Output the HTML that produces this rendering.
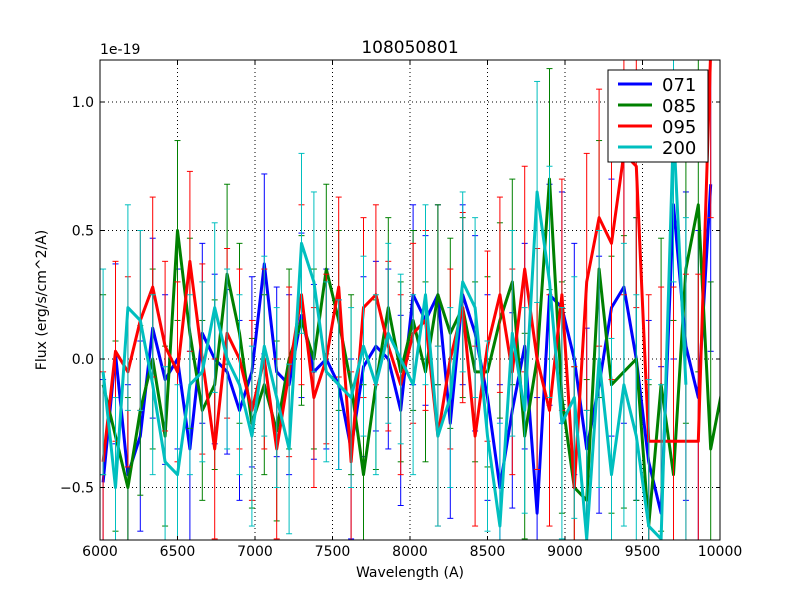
<!DOCTYPE html>
<html><head><meta charset="utf-8"><style>
html,body{margin:0;padding:0;background:#fff;width:800px;height:600px;overflow:hidden;}
svg{display:block;font-family:"DejaVu Sans","Liberation Sans",sans-serif;}
</style></head><body>
<svg id="chart" width="800" height="600">
<rect width="800" height="600" fill="#fff"/>
<defs><clipPath id="clip"><rect x="100" y="60" width="620" height="480"/></clipPath></defs>
<g id="grid"></g>
<g id="series" clip-path="url(#clip)"></g>
<rect x="100" y="60" width="620" height="480" fill="none" stroke="#000" stroke-width="1"/>
<g id="ticks"></g>
<text x="410" y="53" font-size="17" text-anchor="middle">108050801</text>
<text x="100" y="54" font-size="14">1e-19</text>
<text x="410" y="577" font-size="14" text-anchor="middle">Wavelength (A)</text>
<text x="46" y="300" font-size="14" text-anchor="middle" transform="rotate(-90 46 300)">Flux (erg/s/cm^2/A)</text>
<g id="legend">
<rect x="608" y="70" width="100" height="92" fill="#fff" stroke="#000"/>
</g>
</svg>
<script>
const xTicks=[6000,6500,7000,7500,8000,8500,9000,9500,10000];
const yTicks=[-0.5,0.0,0.5,1.0];
const names=["071","085","095","200"];
const colors=["#0000ff","#008000","#ff0000","#00bfbf"];
const start=6020, step=80;
const s071=[-0.48,0.02,-0.45,-0.3,0.12,-0.08,0.0,-0.35,0.1,0.0,-0.05,-0.2,-0.05,0.37,-0.05,-0.1,0.17,-0.05,0.0,-0.1,-0.35,-0.03,0.05,0.0,-0.2,0.25,0.15,0.25,-0.25,0.25,0.1,-0.15,-0.5,-0.2,0.05,-0.6,0.25,0.2,0.0,-0.35,-0.1,0.2,0.28,0.0,-0.4,-0.6,0.6,0.05,-0.15,0.68];
const s085=[-0.1,-0.3,-0.5,-0.2,0.0,-0.3,0.5,0.1,-0.2,-0.1,0.33,0.1,-0.25,-0.1,-0.28,0.0,0.15,0.0,0.35,0.15,-0.1,-0.45,-0.1,0.2,-0.05,0.15,-0.05,0.25,0.1,0.2,-0.05,-0.05,0.15,0.3,-0.3,0.0,0.7,-0.15,-0.5,-0.55,0.35,-0.1,-0.05,0.0,-0.65,-0.1,-0.45,0.35,0.6,-0.35,-0.1];
const s095=[-0.4,0.03,-0.05,0.15,0.28,0.05,-0.05,0.38,0.0,-0.35,0.1,0.0,-0.2,0.0,-0.35,-0.05,0.25,-0.15,0.0,0.28,-0.4,0.2,0.25,0.05,-0.1,0.1,0.15,-0.3,0.0,0.2,-0.3,0.05,0.25,-0.05,0.35,0.0,-0.2,0.25,-0.5,0.3,0.55,0.45,0.8,0.75,-0.32,-0.32,-0.32,-0.32,-0.32,1.2];
const s200=[-0.05,-0.5,0.2,0.15,-0.1,-0.4,-0.45,-0.1,-0.05,0.2,0.0,-0.1,-0.3,0.05,-0.15,-0.35,0.45,0.3,-0.05,-0.1,-0.15,0.05,-0.1,0.1,0.0,-0.1,0.25,-0.3,-0.15,0.3,0.2,-0.3,-0.65,0.1,-0.2,0.65,0.3,-0.25,-0.15,-0.7,0.0,-0.45,-0.1,-0.3,-0.65,-0.7,0.9,-0.1];
const e071=[0.4,0.35,0.35,0.37,0.35,0.33,0.35,0.38,0.35,0.33,0.32,0.35,0.37,0.35,0.33,0.35,0.32,0.34,0.35,0.33,0.35,0.35,0.33,0.35,0.37,0.35,0.33,0.35,0.37,0.35,0.38,0.4,0.4,0.38,0.4,0.45,0.43,0.45,0.45,0.47,0.5,0.5,0.53,0.55,0.55,0.57,0.6,0.6,0.65,0.65];
const e085=[0.35,0.37,0.35,0.33,0.35,0.35,0.35,0.37,0.35,0.33,0.35,0.35,0.33,0.35,0.35,0.35,0.33,0.35,0.33,0.35,0.35,0.35,0.33,0.35,0.35,0.35,0.35,0.35,0.37,0.35,0.35,0.37,0.38,0.4,0.4,0.43,0.43,0.45,0.47,0.47,0.5,0.5,0.53,0.55,0.55,0.57,0.6,0.6,0.65,0.65,0.65];
const e095=[0.35,0.35,0.37,0.35,0.35,0.33,0.35,0.35,0.37,0.35,0.33,0.35,0.35,0.35,0.35,0.33,0.35,0.35,0.33,0.35,0.35,0.35,0.35,0.33,0.35,0.35,0.35,0.35,0.35,0.37,0.35,0.37,0.38,0.4,0.4,0.43,0.45,0.45,0.47,0.5,0.5,0.53,0.55,0.55,0.57,0.6,0.6,0.65,0.65,0.65];
const e200=[0.4,0.35,0.4,0.35,0.35,0.37,0.35,0.35,0.35,0.33,0.35,0.35,0.35,0.35,0.35,0.33,0.35,0.35,0.35,0.33,0.35,0.35,0.35,0.35,0.33,0.35,0.35,0.35,0.35,0.35,0.35,0.37,0.4,0.4,0.4,0.43,0.45,0.45,0.47,0.5,0.5,0.53,0.55,0.55,0.57,0.6,0.6,0.65];
const seriesVals=[s071,s085,s095,s200];
const seriesErr=[e071,e085,e095,e200];
const NS="http://www.w3.org/2000/svg";
const TOP=60,BOT=540;
function X(w){return 100+(w-6000)*0.155;}
function Y(v){return 359-v*257;}
function clampY(y){return Math.max(TOP,Math.min(BOT,y));}
function mk(tag,attrs,parent){const e=document.createElementNS(NS,tag);for(const k in attrs)e.setAttribute(k,attrs[k]);parent.appendChild(e);return e;}
const grid=document.getElementById('grid'),ticks=document.getElementById('ticks'),ser=document.getElementById('series'),leg=document.getElementById('legend');
xTicks.forEach(t=>{
  const x=X(t);
  const g=mk('line',{x1:x,x2:x,y1:60,y2:540,stroke:'#000','stroke-dasharray':'1,3','stroke-width':1},grid);
  
  
  mk('line',{x1:x,x2:x,y1:540,y2:536,stroke:'#000'},ticks);
  mk('line',{x1:x,x2:x,y1:60,y2:64,stroke:'#000'},ticks);
  const l=mk('text',{x:x,y:556,'font-size':14,'text-anchor':'middle'},ticks);
  l.textContent=String(t);
  
  
});
yTicks.forEach(t=>{
  const y=Y(t);
  const g=mk('line',{x1:100,x2:720,y1:y,y2:y,stroke:'#000','stroke-dasharray':'1,3','stroke-width':1},grid);
  
  
  mk('line',{x1:100,x2:104,y1:y,y2:y,stroke:'#000'},ticks);
  mk('line',{x1:716,x2:720,y1:y,y2:y,stroke:'#000'},ticks);
  const l=mk('text',{x:94,y:y+5,'font-size':14,'text-anchor':'end'},ticks);
  l.textContent=t.toFixed(1).replace('-','\u2212');
  
  
});
seriesVals.forEach((vals,si)=>{
  const c=colors[si],err=seriesErr[si];
  const g=mk('g',{},ser);
  
  
  vals.forEach((v,i)=>{
    const x=X(start+i*step),e=err[i]||0.35;
    const y1=Y(v+e),y2=Y(v-e);
    mk('line',{x1:x,x2:x,y1:clampY(y1),y2:clampY(y2),stroke:c,'stroke-width':1},g);
    if(y1>=TOP&&y1<=BOT) mk('line',{x1:x-3,x2:x+3,y1:y1,y2:y1,stroke:c,'stroke-width':1},g);
    if(y2>=TOP&&y2<=BOT) mk('line',{x1:x-3,x2:x+3,y1:y2,y2:y2,stroke:c,'stroke-width':1},g);
  });
  const pts=vals.map((v,i)=>X(start+i*step)+','+Y(v)).join(' ');
  const p=mk('polyline',{points:pts,fill:'none',stroke:c,'stroke-width':3,'stroke-linejoin':'round'},g);
  
  
  const ly=84+si*21;
  const ll=mk('line',{x1:618,x2:652,y1:ly,y2:ly,stroke:c,'stroke-width':3},leg);
  
  
  const lt=mk('text',{x:662,y:ly+7,'font-size':18},leg);
  lt.textContent=names[si];
  
  
});
</script>
</body></html>
